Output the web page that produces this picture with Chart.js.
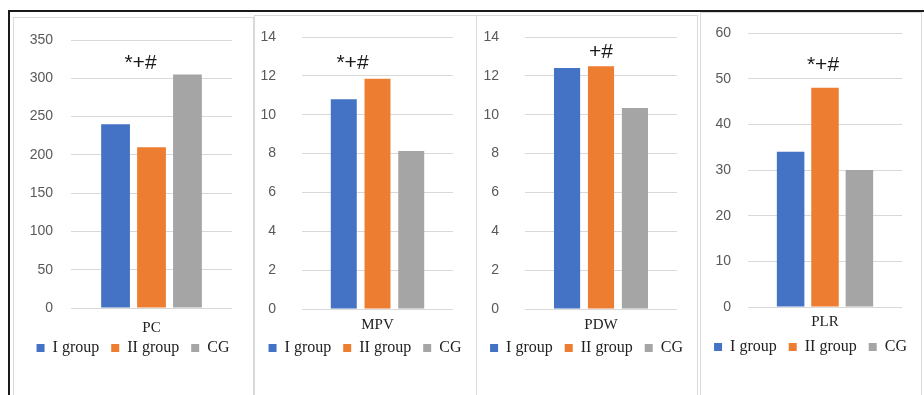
<!DOCTYPE html>
<html><head><meta charset="utf-8">
<script src="https://cdn.jsdelivr.net/npm/chart.js@4"></script>
<style>
html,body{margin:0;padding:0;background:#fff}
body{width:924px;height:395px;position:relative;overflow:hidden}
#outer{position:absolute;left:8px;top:10px;width:940px;height:420px;border-left:2px solid #1a1a1a;border-top:2px solid #1a1a1a}
.panel{position:absolute;border:1px solid #d9d9d9;box-sizing:border-box;height:420px}
canvas{position:absolute}
</style></head><body>
<div id="outer"></div>
<script>
// ---- data ----
const categories = ['PC', 'MPV', 'PDW', 'PLR'];
const seriesNames = ['I group', 'II group', 'CG'];
const groupI  = [240, 10.8, 12.4, 34];
const groupII = [210, 11.85, 12.5, 48];
const groupCG = [305, 8.13, 10.35, 30];
const marks = ['*+#', '*+#', '+#', '*+#'];
const yMax  = [350, 14, 14, 60];
const yStep = [50, 2, 2, 10];

// ---- layout / style ----
const colors = ['#4472C4', '#ED7D31', '#A5A5A5'];
// chartTop / chartBottom / labelC / legendC are page y positions
const layouts = [
  {left:13,  top:17, width:240, yW:58, padR:21, chartTop:40, chartBottom:308, labelC:328, legendC:348, yPad:18, cp:0.67, bp:0.8,  markLevel:320,   markDx:-11},
  {left:254, top:15, width:222, yW:48, padR:23, chartTop:37, chartBottom:309, labelC:325, legendC:348, yPad:26, cp:0.67, bp:0.77, markLevel:12.66, markDx:-25},
  {left:476, top:15, width:221, yW:49, padR:20, chartTop:37, chartBottom:309, labelC:325, legendC:348, yPad:26, cp:0.67, bp:0.77, markLevel:13.2,  markDx:0},
  {left:700, top:12, width:221, yW:48, padR:19, chartTop:33, chartBottom:307, labelC:322, legendC:347, yPad:17, cp:0.67, bp:0.8,  markLevel:53,    markDx:-2}
];
const LEG_FONT = 16, LEG_PAD = 4;

const markPlugin = {
  id: 'marks',
  afterDatasetsDraw(chart, args, opts) {
    const {ctx, scales} = chart;
    const x = scales.x.getPixelForValue(0) + opts.dx;
    const y = scales.y.getPixelForValue(opts.level);
    ctx.save();
    ctx.font = '21px "Liberation Sans", Arial, sans-serif';
    ctx.fillStyle = '#1a1a1a';
    ctx.textAlign = 'center';
    ctx.textBaseline = 'middle';
    ctx.fillText(opts.text, x, y);
    ctx.restore();
  }
};

categories.forEach((cat, i) => {
  const L = layouts[i];
  const H = 395 - L.top;
  const legendTop = L.legendC - LEG_PAD - LEG_FONT / 2;
  const legendH = LEG_FONT + LEG_PAD + 10;
  const padB = 395 - (legendTop + legendH);
  const xH = legendTop - L.chartBottom;
  const xPad = L.labelC - L.chartBottom - 7.5;
  const padT = L.chartTop - L.top;

  const panel = document.createElement('div');
  panel.className = 'panel';
  panel.style.left = L.left + 'px';
  panel.style.top = L.top + 'px';
  panel.style.width = (L.width + 1) + 'px';
  document.body.appendChild(panel);

  const cv = document.createElement('canvas');
  cv.style.left = L.left + 'px';
  cv.style.top = L.top + 'px';
  cv.style.width = L.width + 'px';
  cv.style.height = H + 'px';
  cv.width = L.width; cv.height = H;
  document.body.appendChild(cv);

  const vals = [groupI[i], groupII[i], groupCG[i]];
  new Chart(cv, {
    type: 'bar',
    data: {
      labels: [cat],
      datasets: seriesNames.map((n, k) => ({
        label: n, data: [vals[k]], backgroundColor: colors[k],
        categoryPercentage: L.cp, barPercentage: L.bp
      }))
    },
    options: {
      responsive: false, animation: false,
      layout: {padding: {left: 0, right: 0, top: padT, bottom: padB}},
      plugins: {
        legend: {
          position: 'bottom',
          labels: {
            boxWidth: 8, boxHeight: 8, padding: LEG_PAD, color: '#222',
            font: {family: '"Liberation Serif", "Times New Roman", serif', size: LEG_FONT, lineHeight: 1},
            generateLabels(chart) {
              const items = Chart.defaults.plugins.legend.labels.generateLabels(chart);
              items.forEach((it, k) => { if (k < items.length - 1) it.text += '  '; });
              return items;
            }
          }
        },
        tooltip: {enabled: false},
        marks: {text: marks[i], level: L.markLevel, dx: L.markDx}
      },
      scales: {
        x: {
          grid: {display: false, drawTicks: false}, border: {display: false},
          ticks: {padding: xPad, color: '#222',
                  font: {family: '"Liberation Serif", "Times New Roman", serif', size: 15, lineHeight: 1}},
          afterFit(s) { s.height = xH; }
        },
        y: {
          min: 0, max: yMax[i],
          grid: {color: '#d9d9d9', drawTicks: false}, border: {display: false},
          ticks: {stepSize: yStep[i], padding: L.yPad, color: '#595959',
                  font: {family: '"Liberation Sans", Arial, sans-serif', size: 14}},
          afterFit(s) { s.width = L.yW; s.paddingTop = 8; s.paddingBottom = 8; }
        },
        yRight: {
          position: 'right', display: true,
          grid: {display: false, drawTicks: false}, border: {display: false},
          ticks: {display: false},
          afterFit(s) { s.width = L.padR; s.paddingTop = 0; s.paddingBottom = 0; }
        }
      }
    },
    plugins: [markPlugin]
  });
});
</script>
</body></html>
